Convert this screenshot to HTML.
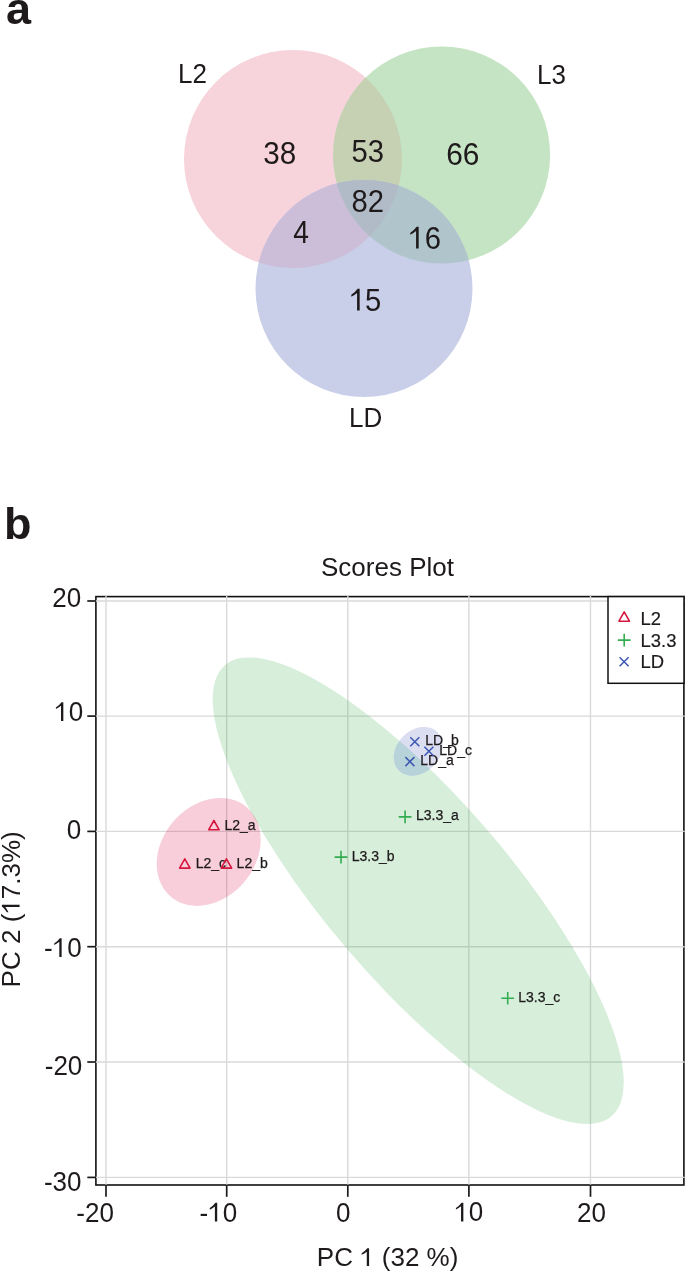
<!DOCTYPE html>
<html><head><meta charset="utf-8">
<style>
html,body{margin:0;padding:0;background:#fff;width:685px;height:1272px;overflow:hidden}
svg{display:block;will-change:transform}
text{font-family:"Liberation Sans",sans-serif;fill:#1e1a1b}
</style></head><body>
<svg width="685" height="1272" viewBox="0 0 685 1272">
<!-- Panel a: Venn -->
<text x="6" y="24.1" font-size="45" font-weight="bold">a</text>
<defs>
<mask id="cP" maskUnits="userSpaceOnUse" x="0" y="0" width="685" height="1272"><circle cx="293" cy="159" r="109" fill="#fff"/></mask>
<mask id="cG" maskUnits="userSpaceOnUse" x="0" y="0" width="685" height="1272"><circle cx="441.6" cy="155" r="108.5" fill="#fff"/></mask>
</defs>
<circle cx="293" cy="159" r="109" fill="rgb(247,211,219)"/>
<circle cx="441.6" cy="155" r="108.5" fill="rgb(197,228,195)"/>
<circle cx="364" cy="288.5" r="108.5" fill="rgb(201,206,233)"/>
<circle cx="441.6" cy="155" r="108.5" fill="rgb(198,209,180)" mask="url(#cP)"/>
<circle cx="364" cy="288.5" r="108.5" fill="rgb(204,190,217)" mask="url(#cP)"/>
<circle cx="364" cy="288.5" r="108.5" fill="rgb(176,197,203)" mask="url(#cG)"/>
<g mask="url(#cP)"><circle cx="364" cy="288.5" r="108.5" fill="rgb(177,187,199)" mask="url(#cG)"/></g>
<g font-size="26">
<text transform="translate(178 83) scale(1 1.05)">L2</text>
<text transform="translate(537 83.5) scale(1 1.05)">L3</text>
<text transform="translate(349 426.7) scale(1 1.05)">LD</text>
</g>
<g font-size="30">
<text transform="translate(263.2 164) scale(0.99 1.07)">38</text>
<text transform="translate(351.6 161.6) scale(0.975 1.07)">53</text>
<text transform="translate(446.2 164.5) scale(0.995 1.07)">66</text>
<text transform="translate(351.6 212) scale(0.975 1.07)">82</text>
<text transform="translate(293.3 242.8) scale(0.94 1.07)">4</text>
<text transform="translate(408.6 248.6) scale(0.975 1.07)">&#x2007;6</text>
<path d="M523,0 L705,0 L705,1395 L565,1395 Q390,1170 120,1005 L120,878 Q340,985 523,1123 Z" fill="#1e1a1b" transform="translate(408.6 248.6) scale(0.014282 -0.015674)"/>
<text transform="translate(349.6 310.6) scale(0.975 1.07)">&#x2007;<tspan dx="-0.8">5</tspan></text>
<path d="M523,0 L705,0 L705,1395 L565,1395 Q390,1170 120,1005 L120,878 Q340,985 523,1123 Z" fill="#1e1a1b" transform="translate(349.6 310.6) scale(0.014282 -0.015674)"/>
</g>

<!-- Panel b -->
<text x="4" y="538.6" font-size="45" font-weight="bold">b</text>
<text x="321" y="575.5" font-size="26">Scores Plot</text>

<!-- frame -->
<rect x="95.9" y="596.6" width="588" height="588.4" fill="none" stroke="#111" stroke-width="1.6"/>
<!-- grid -->
<g stroke="#d9d9d9" stroke-width="1.4">
<line x1="95.2" y1="601" x2="684.6" y2="601"/>
<line x1="95.2" y1="716.1" x2="684.6" y2="716.1"/>
<line x1="95.2" y1="831.4" x2="684.6" y2="831.4"/>
<line x1="95.2" y1="946.7" x2="684.6" y2="946.7"/>
<line x1="95.2" y1="1062" x2="684.6" y2="1062"/>
<line x1="95.2" y1="1177.4" x2="684.6" y2="1177.4"/>
<line x1="106" y1="595.9" x2="106" y2="1185.3"/>
<line x1="226.7" y1="595.9" x2="226.7" y2="1185.3"/>
<line x1="347.8" y1="595.9" x2="347.8" y2="1185.3"/>
<line x1="468.9" y1="595.9" x2="468.9" y2="1185.3"/>
<line x1="590.5" y1="595.9" x2="590.5" y2="1185.3"/>
</g>

<!-- ellipses -->
<ellipse cx="418.2" cy="890.7" rx="297" ry="92" transform="rotate(49.4 418.2 890.7)" fill="rgb(50,170,70)" fill-opacity="0.2"/>
<ellipse cx="208.7" cy="851.9" rx="58.7" ry="46.6" transform="rotate(-49.8 208.7 851.9)" fill="rgb(215,12,72)" fill-opacity="0.2"/>
<defs><mask id="cEG" maskUnits="userSpaceOnUse" x="0" y="0" width="685" height="1272"><ellipse cx="418.2" cy="890.7" rx="297" ry="92" transform="rotate(49.4 418.2 890.7)" fill="#fff"/></mask></defs>
<ellipse cx="418.17" cy="751.27" rx="27.2" ry="21.23" transform="rotate(-44.66 418.17 751.27)" fill="rgb(219,221,241)"/>
<g mask="url(#cEG)"><ellipse cx="418.17" cy="751.27" rx="27.2" ry="21.23" transform="rotate(-44.66 418.17 751.27)" fill="rgb(183,210,217)"/></g>

<g font-size="14" stroke="#1e1a1b" stroke-width="0.25">
<text x="224.5" y="829.7">L2_a</text>
<text x="195.7" y="868">L2_c</text>
<text x="236.6" y="868">L2_b</text>
<text x="416" y="820.3">L3.3_a</text>
<text x="351.7" y="860.7">L3.3_b</text>
<text x="518.2" y="1002.1">L3.3_c</text>
<text x="425.3" y="744.7">LD_b</text>
<text x="439.3" y="754.8">LD_c</text>
<text x="420.3" y="764.8">LD_a</text>
</g>
<!-- points -->
<g fill="none" stroke="rgb(215,22,62)" stroke-width="1.6" stroke-linejoin="round">
<path id="tri" d="M0,-5.9 L5.25,3.4 L-5.25,3.4 Z" transform="translate(213.9 826.4)"/>
<path d="M0,-5.9 L5.25,3.4 L-5.25,3.4 Z" transform="translate(184.8 864.7)"/>
<path d="M0,-5.9 L5.25,3.4 L-5.25,3.4 Z" transform="translate(226.4 864.7)"/>
</g>
<g fill="none" stroke="rgb(52,172,80)" stroke-width="1.6">
<path d="M-6.4,0 H6.4 M0,-6.3 V6.3" transform="translate(405.1 816.9)"/>
<path d="M-6.4,0 H6.4 M0,-6.3 V6.3" transform="translate(341 857.1)"/>
<path d="M-6.4,0 H6.4 M0,-6.3 V6.3" transform="translate(507.7 998.3)"/>
</g>
<g fill="none" stroke="rgb(60,86,178)" stroke-width="1.5">
<path d="M-4.5,-4.5 L4.5,4.5 M-4.5,4.5 L4.5,-4.5" transform="translate(414.8 741.7)"/>
<path d="M-4.5,-4.5 L4.5,4.5 M-4.5,4.5 L4.5,-4.5" transform="translate(428.9 751.2)"/>
<path d="M-4.5,-4.5 L4.5,4.5 M-4.5,4.5 L4.5,-4.5" transform="translate(409.9 761.6)"/>
</g>


<!-- ticks -->
<g stroke="#1a1a1a" stroke-width="1.7">
<line x1="87.3" y1="601" x2="96" y2="601"/>
<line x1="87.3" y1="716.1" x2="96" y2="716.1"/>
<line x1="87.3" y1="831.4" x2="96" y2="831.4"/>
<line x1="87.3" y1="946.7" x2="96" y2="946.7"/>
<line x1="87.3" y1="1062" x2="96" y2="1062"/>
<line x1="87.3" y1="1177.4" x2="96" y2="1177.4"/>
<line x1="106" y1="1184.7" x2="106" y2="1196.8"/>
<line x1="226.7" y1="1184.7" x2="226.7" y2="1196.8"/>
<line x1="347.8" y1="1184.7" x2="347.8" y2="1196.8"/>
<line x1="468.9" y1="1184.7" x2="468.9" y2="1196.8"/>
<line x1="590.5" y1="1184.7" x2="590.5" y2="1196.8"/>
</g>
<!-- y labels -->
<g font-size="26" text-anchor="end">
<text transform="translate(81.1 606.6) scale(1 1.06)">20</text>
<text transform="translate(83.3 720.9) scale(1 1.06)">&#x2007;0</text>
<path d="M523,0 L705,0 L705,1395 L565,1395 Q390,1170 120,1005 L120,878 Q340,985 523,1123 Z" fill="#1e1a1b" transform="translate(54.380 720.9) scale(0.012695 -0.013457)"/>
<text transform="translate(81.1 838.6) scale(1 1.06)">0</text>
<text transform="translate(81.6 956.9) scale(1 1.06)">-&#x2007;0</text>
<path d="M523,0 L705,0 L705,1395 L565,1395 Q390,1170 120,1005 L120,878 Q340,985 523,1123 Z" fill="#1e1a1b" transform="translate(52.680 956.9) scale(0.012695 -0.013457)"/>
<text transform="translate(82.3 1074.5) scale(1 1.06)">-20</text>
<text transform="translate(81.5 1191) scale(1 1.06)">-30</text>
</g>
<g font-size="26">
<text transform="translate(76.3 1221.9) scale(1 1.06)">-20</text>
<text transform="translate(199.6 1221.6) scale(1 1.06)">-&#x2007;0</text>
<path d="M523,0 L705,0 L705,1395 L565,1395 Q390,1170 120,1005 L120,878 Q340,985 523,1123 Z" fill="#1e1a1b" transform="translate(208.258 1221.6) scale(0.012695 -0.013457)"/>
<text transform="translate(336.1 1221.6) scale(1 1.06)">0</text>
<text transform="translate(454.4 1221.4) scale(1 1.06)">&#x2007;0</text>
<path d="M523,0 L705,0 L705,1395 L565,1395 Q390,1170 120,1005 L120,878 Q340,985 523,1123 Z" fill="#1e1a1b" transform="translate(454.4 1221.4) scale(0.012695 -0.013457)"/>
<text transform="translate(577 1221.9) scale(1 1.06)">20</text>
</g>
<text x="316.8" y="1265.9" font-size="26">PC &#x2007; (32 %)</text>
<path d="M523,0 L705,0 L705,1395 L565,1395 Q390,1170 120,1005 L120,878 Q340,985 523,1123 Z" fill="#1e1a1b" transform="translate(360.142 1265.9) scale(0.012695 -0.012695)"/>
<text transform="translate(19.6 987.4) rotate(-90)" font-size="26">PC 2 (&#x2007;7.3%)</text>
<path d="M523,0 L705,0 L705,1395 L565,1395 Q390,1170 120,1005 L120,878 Q340,985 523,1123 Z" fill="#1e1a1b" transform="translate(19.6 987.4) rotate(-90) translate(73.684 0) scale(0.012695 -0.012695)"/>

<!-- legend -->
<rect x="608" y="596.6" width="76" height="86.7" fill="#fff" stroke="#111" stroke-width="1.5"/>
<path d="M0,-5.9 L5.25,3.4 L-5.25,3.4 Z" transform="translate(624.2 617.8)" fill="none" stroke="rgb(215,22,62)" stroke-width="1.6" stroke-linejoin="round"/>
<path d="M-6.4,0 H6.4 M0,-6.3 V6.3" transform="translate(624.2 640.1)" fill="none" stroke="rgb(52,172,80)" stroke-width="1.6"/>
<path d="M-4.5,-4.5 L4.5,4.5 M-4.5,4.5 L4.5,-4.5" transform="translate(624.1 661.8)" fill="none" stroke="rgb(60,86,178)" stroke-width="1.5"/>
<g font-size="18.4" stroke="#1e1a1b" stroke-width="0.2">
<text x="640.6" y="624.7">L2</text>
<text x="640.6" y="646.8">L3.3</text>
<text x="640.6" y="668.3">LD</text>
</g>
</svg>
</body></html>
